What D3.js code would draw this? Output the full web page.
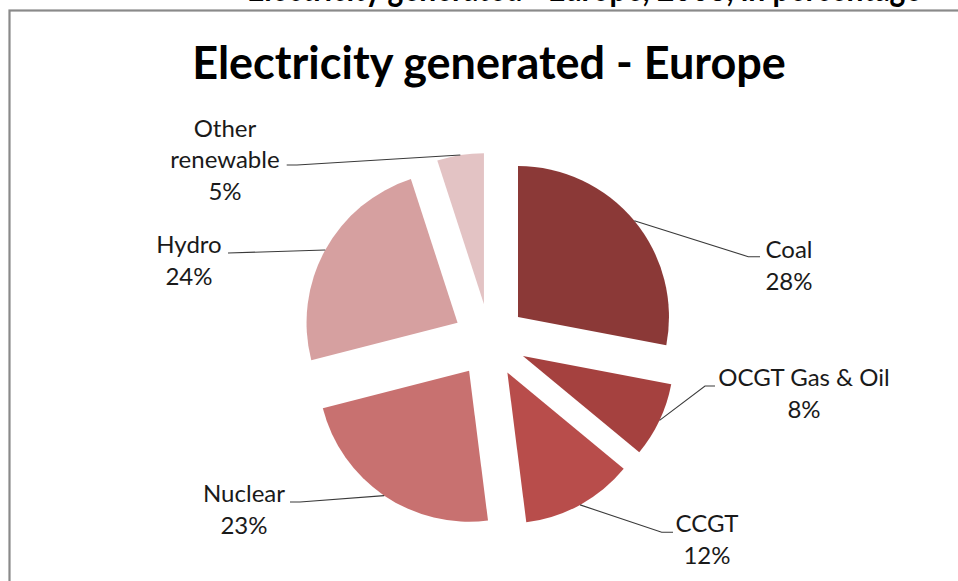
<!DOCTYPE html>
<html>
<head>
<meta charset="utf-8">
<script src="https://cdn.jsdelivr.net/npm/d3@7"></script>
<style>
  html, body { margin: 0; padding: 0; background: #ffffff; overflow: hidden; }
  svg { display: block; }
</style>
</head>
<body>
<svg id="chart" width="958" height="581"></svg>
<script>
// ---- data ----
const categories = ["Coal", "OCGT Gas & Oil", "CCGT", "Nuclear", "Hydro", "Other renewable"];
const shares = [28, 8, 12, 23, 24, 5];
const percentLabels = ["28%", "8%", "12%", "23%", "24%", "5%"];
const labelLines = [["Coal"], ["OCGT Gas & Oil"], ["CCGT"], ["Nuclear"], ["Hydro"], ["Other", "renewable"]];
const sliceColors = ["#8b3937", "#a5413f", "#b84d4b", "#c87170", "#d6a0a0", "#e3c3c4"];
const chartTitle = "Electricity generated - Europe";
const pageHeading = "Electricity generated - Europe, 2008, in percentage";

// ---- layout ----
const W = 958, H = 581;
const cx = 489.7, cy = 340.4, R = 151, explode = 36.7;
const fontFamily = "Lato, 'Open Sans', 'Liberation Sans', sans-serif";
const svg = d3.select("#chart");

svg.append("rect").attr("width", W).attr("height", H).attr("fill", "#fff");

// page heading, cut off by the top of the window (only descenders show)
svg.append("text")
  .attr("x", 247).attr("y", 0.5)
  .attr("font-family", fontFamily).attr("font-weight", 700).attr("font-size", 30)
  .attr("fill", "#000")
  .attr("transform", "translate(0,0) scale(1,1.25)")
  .text(pageHeading);

// chart frame
svg.append("rect")
  .attr("x", 9.5).attr("y", 10.5).attr("width", W + 20).attr("height", H + 20)
  .attr("fill", "#fff").attr("stroke", "#8a8a8a").attr("stroke-width", 2.2);

// title
svg.append("text")
  .attr("x", 489).attr("y", 79)
  .attr("text-anchor", "middle")
  .attr("font-family", fontFamily).attr("font-weight", 700).attr("font-size", 45)
  .attr("fill", "#000")
  .text(chartTitle);

const data = categories.map((c, i) => ({ name: c, value: shares[i], i }));
const pie = d3.pie().value(d => d.value).sort(null).startAngle(0).endAngle(2 * Math.PI);
const arcs = pie(data);
const arc = d3.arc().innerRadius(0).outerRadius(R);
const rimArc = d3.arc().innerRadius(R).outerRadius(R);

const g = svg.append("g").attr("transform", `translate(${cx},${cy})`);

function offset(d) {
  const a = (d.startAngle + d.endAngle) / 2;
  return [explode * Math.sin(a), -explode * Math.cos(a)];
}

g.selectAll("path.slice")
  .data(arcs)
  .join("path")
  .attr("class", "slice")
  .attr("d", arc)
  .attr("fill", (d, i) => sliceColors[i])
  .attr("transform", d => { const o = offset(d); return `translate(${o[0]},${o[1]})`; });

// label layout (annotation positions)
const labelPos = [
  { x: 789, y: 258, bend: [748.3, 256.7], end: [760, 256.7] },
  { x: 804, y: 386, bend: [705, 386], end: [715, 386] },
  { x: 707, y: 532, bend: [661.7, 532.3], end: [673, 532.3] },
  { x: 244, y: 502, bend: [300, 502], end: [290, 502] },
  { x: 189, y: 253, bend: [228, 253], end: [228, 253] },
  { x: 225, y: 136.5, bend: [297, 165], end: [286.7, 165] }
];
const lineH = 31.5;

arcs.forEach((d, i) => {
  const o = offset(d);
  const c = rimArc.centroid(d);
  const sx = cx + o[0] + c[0], sy = cy + o[1] + c[1];
  const p = labelPos[i];
  svg.append("polyline")
    .attr("points", [[sx, sy], p.bend, p.end].map(q => q.join(",")).join(" "))
    .attr("fill", "none").attr("stroke", "#3a3a3a").attr("stroke-width", 1.1);

  const lines = labelLines[i].concat([percentLabels[i]]);
  const t = svg.append("text")
    .attr("text-anchor", "middle")
    .attr("font-family", fontFamily).attr("font-size", 24)
    .attr("fill", "#1a1a1a");
  lines.forEach((ln, k) => {
    t.append("tspan").attr("x", p.x).attr("y", p.y + k * lineH).text(ln);
  });
});
</script>
</body>
</html>
